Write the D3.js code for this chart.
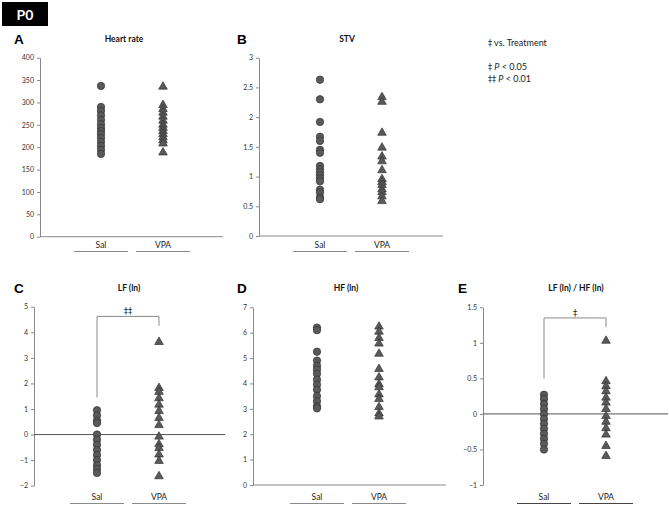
<!DOCTYPE html>
<html><head><meta charset="utf-8">
<script src="https://cdn.jsdelivr.net/npm/d3@7"></script>
<style>body{margin:0;background:#fff}svg{display:block}</style>
</head><body>
<script>
const groups = ["Sal", "VPA"];

const hrSal = [337, 290, 281, 271, 261, 251, 243, 236, 229, 221, 212, 203, 194, 185];
const hrVpa = [337, 296, 287, 279, 270, 261, 252, 245, 238, 231, 224, 217, 210, 190];

const stvSal = [2.63, 2.3, 1.92, 1.67, 1.6, 1.45, 1.4, 1.18, 1.12, 1.07, 1.02, 0.97, 0.92, 0.78, 0.73, 0.65, 0.62];
const stvVpa = [2.35, 2.27, 1.75, 1.5, 1.35, 1.27, 1.12, 0.97, 0.92, 0.87, 0.8, 0.75, 0.68, 0.6];

const lfSal = [0.95, 0.75, 0.55, 0.45, 0.0, -0.2, -0.4, -0.6, -0.8, -1.0, -1.2, -1.35, -1.5];
const lfVpa = [3.65, 1.85, 1.7, 1.45, 1.2, 0.95, 0.68, 0.4, -0.05, -0.35, -0.5, -0.75, -1.0, -1.6];

const hfSal = [6.2, 6.1, 5.25, 4.9, 4.7, 4.55, 4.38, 4.15, 3.95, 3.75, 3.5, 3.3, 3.1, 3.02];
const hfVpa = [6.27, 6.07, 5.82, 5.6, 5.2, 4.6, 4.27, 4.0, 3.88, 3.6, 3.42, 3.1, 2.85, 2.73];

const ratioSal = [0.27, 0.21, 0.14, 0.07, 0.0, -0.07, -0.14, -0.21, -0.28, -0.35, -0.42, -0.5];
const ratioVpa = [1.04, 0.47, 0.4, 0.33, 0.24, 0.17, 0.08, -0.02, -0.1, -0.19, -0.28, -0.44, -0.58];

const hrTicks = [0, 50, 100, 150, 200, 250, 300, 350, 400];
const stvTicks = [0, 0.5, 1, 1.5, 2, 2.5, 3];
const lfTicks = [-2, -1, 0, 1, 2, 3, 4, 5];
const hfTicks = [0, 1, 2, 3, 4, 5, 6, 7];
const ratioTicks = [-1, -0.5, 0, 0.5, 1, 1.5];

// bracket: [salBottom, top, vpaBottom]
const lfBracket = [1.45, 4.62, 4.25];
const ratioBracket = [0.5, 1.35, 1.22];

const legendLines = ["‡ vs. Treatment", "‡ P < 0.05", "‡‡ P < 0.01"];

const W = 669, H = 506;
const svg = d3.select("body").append("svg").attr("width", W).attr("height", H);

const FONT = "Lato, 'Open Sans', sans-serif";
const DAG = "'DejaVu Sans', sans-serif";
const AXC = "#8a8a8a";

// P0 box
svg.append("rect").attr("x", 2).attr("y", 2).attr("width", 46).attr("height", 24).attr("fill", "#000");
svg.append("text").attr("x", 25).attr("y", 20).attr("text-anchor", "middle")
  .attr("fill", "#fff").attr("font-family", FONT).attr("font-weight", "bold").attr("font-size", 14).text("P0");

// legend
legendLines.forEach((s, i) => {
  const y = [46, 70, 82][i];
  const m = s.match(/^(‡+)(.*)$/);
  const t = svg.append("text").attr("x", 488).attr("y", y).attr("font-family", FONT).attr("font-size", 9).attr("fill", "#222");
  t.append("tspan").attr("font-family", DAG).attr("font-size", 8).text(m[1]);
  const rest = m[2];
  if (rest.includes("P <")) {
    const parts = rest.split("P");
    t.append("tspan").text(parts[0]);
    t.append("tspan").attr("font-style", "italic").text("P");
    t.append("tspan").text(parts[1]);
  } else {
    t.append("tspan").text(rest);
  }
});

function panel(cfg) {
  const g = svg.append("g");
  const y = d3.scaleLinear().domain(cfg.domain).range([cfg.yBot, cfg.yTop]);
  const x = d3.scaleBand().domain(groups).range([cfg.sal - 31, cfg.sal - 31 + 124]);
  const cx = d => x(d) + x.bandwidth() / 2;

  // letter + title
  g.append("text").attr("x", cfg.letterX).attr("y", cfg.titleY + 2).attr("font-family", "'Liberation Sans', Arial, sans-serif")
    .attr("font-weight", "bold").attr("font-size", 13.5).text(cfg.letter);
  g.append("text").attr("x", cfg.titleX).attr("y", cfg.titleY).attr("text-anchor", "middle").attr("font-family", FONT)
    .attr("font-weight", "bold").attr("font-size", 8.5).attr("fill", "#111").text(cfg.title);

  // y axis
  const ax = g.append("g").attr("transform", `translate(${cfg.axisX},0)`)
    .call(d3.axisLeft(y).tickValues(cfg.ticks).tickSize(3).tickSizeOuter(0).tickFormat(d3.format("")));
  ax.select(".domain").attr("stroke", AXC);
  ax.selectAll(".tick line").attr("stroke", AXC);
  ax.selectAll(".tick text").attr("font-family", FONT).attr("font-size", 7).attr("fill", "#333").attr("x", -6);

  // baseline
  const baseVal = cfg.domain[0] < 0 ? 0 : cfg.domain[0];
  g.append("line").attr("x1", cfg.axisX).attr("x2", cfg.axisEnd).attr("y1", y(baseVal)).attr("y2", y(baseVal))
    .attr("stroke", cfg.domain[0] < 0 ? "#555" : AXC).attr("stroke-width", 1);

  // group labels + underlines
  groups.forEach(gr => {
    g.append("text").attr("x", cx(gr)).attr("y", cfg.labelY).attr("text-anchor", "middle")
      .attr("font-family", FONT).attr("font-size", 8.5).attr("fill", "#222").text(gr);
    g.append("line").attr("x1", cx(gr) - 27).attr("x2", cx(gr) + 27)
      .attr("y1", cfg.labelY + 3.5).attr("y2", cfg.labelY + 3.5).attr("stroke", cfg.ulColor || AXC).attr("stroke-width", 1);
  });

  // bracket
  if (cfg.bracket) {
    const b = cfg.bracket;
    g.append("path").attr("fill", "none").attr("stroke", AXC).attr("stroke-width", 1)
      .attr("d", `M${cx("Sal")},${y(b[0])}V${y(b[1])}H${cx("VPA")}V${y(b[2])}`);
    g.append("text").attr("x", (cx("Sal") + cx("VPA")) / 2).attr("y", y(b[1]) - 2).attr("text-anchor", "middle")
      .attr("font-family", DAG).attr("font-size", 8.5).attr("fill", "#222").text(cfg.mark);
  }

  // points
  g.selectAll("circle.pt").data(cfg.sal_data).join("circle").attr("class", "pt")
    .attr("cx", cx("Sal")).attr("cy", d => y(d)).attr("r", 3.7)
    .attr("fill", "#5a5a5a").attr("stroke", "#333").attr("stroke-width", 0.7);
  const tri = d3.symbol().type(d3.symbolTriangle).size(32);
  g.selectAll("path.pt").data(cfg.vpa_data).join("path").attr("class", "pt")
    .attr("d", tri).attr("transform", d => `translate(${cx("VPA")},${y(d) + 0.8})`)
    .attr("fill", "#5a5a5a").attr("stroke", "#333").attr("stroke-width", 0.7);
}

panel({letter: "A", letterX: 14, title: "Heart rate", titleX: 124, titleY: 42, domain: [0, 400], ticks: hrTicks,
  axisX: 40, yTop: 57.7, yBot: 236.7, sal: 101, axisEnd: 223, labelY: 248, sal_data: hrSal, vpa_data: hrVpa});
panel({letter: "B", letterX: 237, title: "STV", titleX: 347, titleY: 42, domain: [0, 3], ticks: stvTicks,
  axisX: 259, yTop: 57.7, yBot: 236, sal: 320, axisEnd: 443, labelY: 248, sal_data: stvSal, vpa_data: stvVpa});
panel({letter: "C", letterX: 14, title: "LF (ln)", titleX: 129, titleY: 291, domain: [-2, 5], ticks: lfTicks,
  axisX: 34, yTop: 306.7, yBot: 485.7, sal: 97, axisEnd: 225, labelY: 500, sal_data: lfSal, vpa_data: lfVpa,
  bracket: lfBracket, mark: "‡‡"});
panel({letter: "D", letterX: 237, title: "HF (ln)", titleX: 346, titleY: 291, domain: [0, 7], ticks: hfTicks,
  axisX: 253, yTop: 307.3, yBot: 485, sal: 317, axisEnd: 446, labelY: 500, sal_data: hfSal, vpa_data: hfVpa});
panel({letter: "E", letterX: 458, title: "LF (ln) / HF (ln)", titleX: 576, titleY: 291, domain: [-1, 1.5], ticks: ratioTicks,
  axisX: 483, yTop: 307.3, yBot: 485, sal: 544, axisEnd: 668, labelY: 500, sal_data: ratioSal, vpa_data: ratioVpa,
  bracket: ratioBracket, mark: "‡", ulColor: "#444"});
</script>
</body></html>
